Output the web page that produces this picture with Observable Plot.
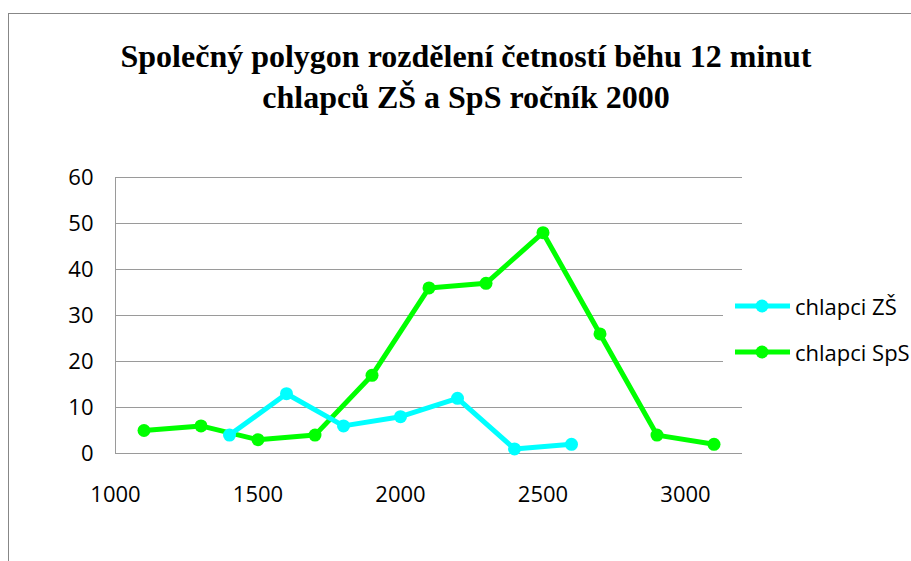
<!DOCTYPE html>
<html>
<head>
<meta charset="utf-8">
<script src="https://cdn.jsdelivr.net/npm/d3@7"></script>
<script src="https://cdn.jsdelivr.net/npm/@observablehq/plot@0.6"></script>
<style>
  html, body { margin: 0; padding: 0; background: #fff; }
  #wrap { position: relative; width: 911px; height: 561px; overflow: hidden; background: #fff; }
  #frame { position: absolute; left: 8px; top: 13px; width: 960px; height: 600px;
           border-top: 1px solid #878787; border-left: 1px solid #878787; }
  #title { position: absolute; left: 8px; top: 36px; width: 916px; text-align: center;
           font-family: "Liberation Serif", "Times New Roman", serif; font-weight: bold;
           font-size: 32px; line-height: 41px; color: #000; }
  #chart { position: absolute; left: 0; top: 0; }
  #legend { position: absolute; left: 723px; top: 285px; width: 200px; height: 90px; background: #fff;
            font-family: "Open Sans", sans-serif; font-size: 22px; color: #000; }
  .item { position: absolute; left: 12px; height: 30px; display: flex; align-items: center; white-space: nowrap; }
  .item svg { margin-right: 5px; }
</style>
</head>
<body>
<div id="wrap">
  <div id="frame"></div>
  <div id="chart"></div>
  <div id="title">Společný polygon rozdělení četností běhu 12 minut<br>chlapců ZŠ a SpS ročník 2000</div>
  <div id="legend"></div>
</div>
<script>
// ---- data ----
const seriesNames = ["chlapci ZŠ", "chlapci SpS"];
const seriesColors = ["#00ffff", "#00ff00"];
const xZS = [1400, 1600, 1800, 2000, 2200, 2400, 2600];
const valZS = [4, 13, 6, 8, 12, 1, 2];
const xSpS = [1100, 1300, 1500, 1700, 1900, 2100, 2300, 2500, 2700, 2900, 3100];
const valSpS = [5, 6, 3, 4, 17, 36, 37, 48, 26, 4, 2];
const xTicks = [1000, 1500, 2000, 2500, 3000];
const yTicks = [0, 10, 20, 30, 40, 50, 60];

const dZS = xZS.map((x, i) => ({x, y: valZS[i]}));
const dSpS = xSpS.map((x, i) => ({x, y: valSpS[i]}));

const chart = Plot.plot({
  width: 911,
  height: 561,
  marginLeft: 115,
  marginRight: 169,
  marginTop: 177,
  marginBottom: 108,
  style: {fontFamily: "Open Sans, sans-serif", fontSize: "22px", color: "#000", background: "transparent", overflow: "visible"},
  x: {domain: [1000, 3200], ticks: xTicks, tickSize: 0, tickPadding: 33, label: null, tickFormat: d => String(d)},
  y: {domain: [0, 60], ticks: yTicks, tickSize: 0, tickPadding: 22, label: null},
  marks: [
    Plot.ruleY(yTicks, {stroke: "#9a9a9a", strokeWidth: 1}),
    Plot.ruleX([1000], {stroke: "#9a9a9a", strokeWidth: 1}),
    Plot.line(dSpS, {x: "x", y: "y", stroke: seriesColors[1], strokeWidth: 5, strokeLinejoin: "round"}),
    Plot.dot(dSpS, {x: "x", y: "y", r: 6.5, fill: seriesColors[1], stroke: "none"}),
    Plot.line(dZS, {x: "x", y: "y", stroke: seriesColors[0], strokeWidth: 5, strokeLinejoin: "round"}),
    Plot.dot(dZS, {x: "x", y: "y", r: 6.5, fill: seriesColors[0], stroke: "none"})
  ]
});
document.getElementById("chart").appendChild(chart);

// legend
const legend = document.getElementById("legend");
seriesNames.forEach((name, i) => {
  const item = document.createElement("div");
  item.className = "item";
  item.style.top = (i === 0 ? 6 : 52) + "px";
  item.innerHTML = `<svg width="55" height="16"><line x1="0" y1="8" x2="55" y2="8" stroke="${seriesColors[i]}" stroke-width="5"/><circle cx="27" cy="8" r="6.5" fill="${seriesColors[i]}"/></svg><span>${name}</span>`;
  legend.appendChild(item);
});
</script>
</body>
</html>
